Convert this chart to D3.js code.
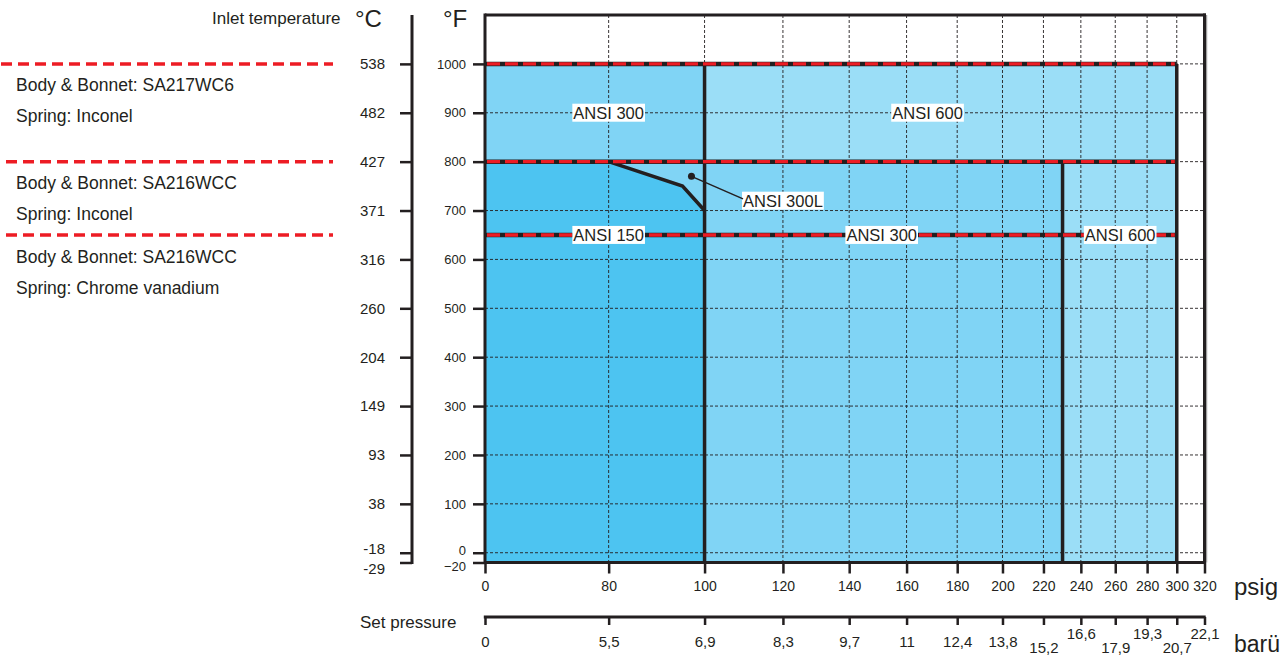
<!DOCTYPE html>
<html><head><meta charset="utf-8">
<script src="https://cdn.jsdelivr.net/npm/d3@7"></script>
<style>
body{margin:0;background:#fff}
svg{display:block}
text{font-family:"Liberation Sans",Arial,sans-serif;fill:#231f20}
</style>
</head><body><svg id="c" width="1285" height="657"></svg>
<script>
// ---------- data ----------
const psigTicks = [0,80,100,120,140,160,180,200,220,240,260,280,300,320];
const barTicks  = ["0","5,5","6,9","8,3","9,7","11","12,4","13,8","15,2","16,6","17,9","19,3","20,7","22,1"];
const fTicks    = [-20,0,100,200,300,400,500,600,700,800,900,1000];
const cTicks    = ["-29","-18","38","93","149","204","260","316","371","427","482","538"];
const gridF     = [0,100,200,300,400,500,600,700,800,900,1000];
const gridPsig  = [80,100,120,140,160,180,200,220,240,260,280,300];

const zoneANSI150   = [[0,-20],[0,800],[80,800],[95,750],[100,700],[100,-20]];
const zoneANSI300lo = [[0,-20],[0,800],[230,800],[230,-20]];
const zoneANSI300hi = [[0,800],[0,1000],[100,1000],[100,800]];
const zoneANSI600hi = [[100,800],[100,1000],[300,1000],[300,800]];
const zoneANSI600lo = [[230,-20],[230,800],[300,800],[300,-20]];
const ansi300L      = [[80,800],[95,750],[100,700]];
const classBounds   = [[100,-20,1000],[230,-20,800],[300,-20,1000]]; // psig, from °F, to °F
const tempLimits    = [1000,800,650];
const materials = [
  ["Body & Bonnet: SA217WC6","Spring: Inconel"],
  ["Body & Bonnet: SA216WCC","Spring: Inconel"],
  ["Body & Bonnet: SA216WCC","Spring: Chrome vanadium"]
];
const classLabels = [
  ["ANSI 300",80,900],["ANSI 600",168,900],
  ["ANSI 150",80,650],["ANSI 300",151,650],["ANSI 600",263,650]
];
const label300L = ["ANSI 300L",120,720];
const dot300L   = [97,770];

// ---------- scales ----------
const svg = d3.select("#c");
const dark = "#231f20", red = "#ed1c24";
const xLog = d3.scaleLog().domain([60,320]).range([485,1204.5]); // 0 psig drawn at axis start
const x = v => xLog(Math.max(v,60));
const y = d3.scaleLinear().domain([-20,1100]).range([562.5,15]);
const poly = pts => pts.map(p => [x(p[0]), y(p[1])].join(",")).join(" ");

// ---------- fills ----------
const fills = [[zoneANSI300lo,"#80d4f5"],[zoneANSI150,"#4dc4f1"],[zoneANSI300hi,"#80d4f5"],
               [zoneANSI600hi,"#9bdef7"],[zoneANSI600lo,"#9bdef7"]];
svg.append("g").selectAll("polygon").data(fills).join("polygon")
  .attr("points", d => poly(d[0])).attr("fill", d => d[1]);

// ---------- grid ----------
const grid = svg.append("g").attr("stroke", dark).attr("stroke-width", 1).attr("stroke-dasharray","3,2").attr("opacity",0.9);
grid.selectAll("line.v").data(gridPsig).join("line").attr("class","v")
  .attr("x1", d => x(d)).attr("x2", d => x(d)).attr("y1", y(1100)).attr("y2", y(-20));
grid.selectAll("line.h").data(gridF).join("line").attr("class","h")
  .attr("x1", x(0)).attr("x2", x(320)).attr("y1", d => y(d)).attr("y2", d => y(d));

// ---------- class boundaries ----------
svg.append("g").selectAll("line").data(classBounds).join("line")
  .attr("x1", d => x(d[0])).attr("x2", d => x(d[0]))
  .attr("y1", d => y(d[2])).attr("y2", d => y(d[1]))
  .attr("stroke", dark).attr("stroke-width", 3.5);
svg.append("polyline").attr("points", poly(ansi300L)).attr("fill","none")
  .attr("stroke", dark).attr("stroke-width", 3.5).attr("stroke-linejoin","miter");

// ---------- temperature limits (black + red dashes) ----------
const lim = svg.append("g");
lim.selectAll("line.b").data(tempLimits).join("line").attr("class","b")
  .attr("x1", x(0)).attr("x2", x(300)).attr("y1", d => y(d)).attr("y2", d => y(d))
  .attr("stroke", dark).attr("stroke-width", 4.5);
lim.selectAll("line.r").data(tempLimits).join("line").attr("class","r")
  .attr("x1", x(0)+2).attr("x2", x(300)-2).attr("y1", d => y(d)).attr("y2", d => y(d))
  .attr("stroke", red).attr("stroke-width", 3.4).attr("stroke-dasharray","13,5");

// ---------- frame ----------
const frame = svg.append("g").attr("stroke", dark).attr("stroke-width", 3).attr("fill","none");
frame.append("line").attr("x1", x(0)).attr("x2", x(320)+1.5).attr("y1", y(1100)).attr("y2", y(1100));
frame.append("line").attr("x1", x(0)).attr("x2", x(0)).attr("y1", y(1100)-1.5).attr("y2", y(-20));
frame.append("line").attr("x1", x(320)).attr("x2", x(320)).attr("y1", y(1100)-1.5).attr("y2", y(-20));
frame.append("line").attr("x1", x(0)).attr("x2", x(320)+1.5).attr("y1", y(-20)).attr("y2", y(-20));
svg.append("line").attr("x1", x(320)+2.2).attr("x2", x(320)+2.2).attr("y1", y(1100)).attr("y2", y(-20))
  .attr("stroke","#8a8a8a").attr("stroke-width",1);

// ---------- axes ----------
function styleAxis(g, fs){
  g.select(".domain").remove();
  g.selectAll(".tick line").attr("stroke", dark).attr("stroke-width", 2.5);
  g.selectAll(".tick text").attr("fill", dark).style("font-size", fs+"px")
   .style("font-family",'"Liberation Sans",Arial,sans-serif');
}
// °F axis
const gF = svg.append("g").attr("transform",`translate(${x(0)},0)`)
  .call(d3.axisLeft(y).tickValues(fTicks).tickSize(12).tickPadding(7).tickFormat(d3.format("d")));
styleAxis(gF, 13);
gF.selectAll(".tick text").attr("dy", d => d === -20 ? "0.62em" : d === 0 ? "0.1em" : "0.32em");

// °C axis
const cx = 412;
svg.append("line").attr("x1",cx).attr("x2",cx).attr("y1",y(1100)).attr("y2",y(-20)+1.5)
  .attr("stroke",dark).attr("stroke-width",3);
const gC = svg.append("g").attr("transform",`translate(${cx},0)`)
  .call(d3.axisLeft(y).tickValues(fTicks).tickSize(12).tickPadding(15).tickFormat((d,i) => cTicks[i]));
styleAxis(gC, 15);
gC.selectAll(".tick text").attr("dy", (d,i) => i === 0 ? "0.7em" : i === 1 ? "0.05em" : "0.32em");

// psig axis
const xTickVals = psigTicks.map(v => Math.max(v,60));
const gX = svg.append("g").attr("transform",`translate(0,${y(-20)})`)
  .call(d3.axisBottom(xLog).tickValues(xTickVals).tickSize(11).tickPadding(8).tickFormat((d,i) => psigTicks[i]));
styleAxis(gX, 14);

// bar axis
const barY = 617;
svg.append("line").attr("x1", x(0)-1.2).attr("x2", x(320)+1.2).attr("y1", barY).attr("y2", barY)
  .attr("stroke", dark).attr("stroke-width", 3);
const gB = svg.append("g").attr("transform",`translate(0,${barY})`)
  .call(d3.axisBottom(xLog).tickValues(xTickVals).tickSize(8).tickPadding(11).tickFormat((d,i) => barTicks[i]));
styleAxis(gB, 15);
gB.selectAll(".tick text").attr("transform", (d,i) => i < 8 ? null : `translate(0,${i % 2 === 0 ? 6 : -8})`);

// ---------- titles ----------
svg.append("text").attr("x",212).attr("y",24).style("font-size","17px").text("Inlet temperature");
svg.append("text").attr("x",355).attr("y",27).style("font-size","24px").text("°C");
svg.append("text").attr("x",443).attr("y",27).style("font-size","24px").text("°F");
svg.append("text").attr("x",360).attr("y",628).style("font-size","17px").text("Set pressure");
svg.append("text").attr("x",1234).attr("y",595).style("font-size","24px").text("psig");
svg.append("text").attr("x",1234).attr("y",652).style("font-size","23px").text("barü");

// ---------- material legend ----------
const leg = svg.append("g");
leg.selectAll("line").data(tempLimits).join("line")
  .attr("x1", (d,i) => i === 0 ? 1 : 6).attr("x2", 333).attr("y1", d => y(d)).attr("y2", d => y(d))
  .attr("stroke", red).attr("stroke-width", 3.5).attr("stroke-dasharray","11,6");
materials.forEach((m,i) => {
  m.forEach((t,j) => {
    leg.append("text").attr("x",16).attr("y", y(tempLimits[i]) + 27 + j*31 + (i===2 ? 1 : 0))
      .style("font-size","17.5px").text(t);
  });
});

// ---------- class labels ----------
function boxLabel(t, px, py, anchor){
  const g = svg.append("g");
  const tx = g.append("text").attr("x",px).attr("y",py).attr("dy","0.36em")
    .attr("text-anchor",anchor).style("font-size","16.5px").text(t);
  const b = tx.node().getBBox();
  g.insert("rect","text").attr("x",b.x-1).attr("y",b.y).attr("width",b.width+2).attr("height",b.height)
    .attr("fill","#fff");
  return b;
}
classLabels.forEach(d => boxLabel(d[0], x(d[1]), y(d[2]), "middle"));
const b3 = boxLabel(label300L[0], x(label300L[1]), y(label300L[2]), "middle");
svg.append("line").attr("x1", x(dot300L[0])).attr("y1", y(dot300L[1]))
  .attr("x2", b3.x).attr("y2", b3.y + b3.height*0.4).attr("stroke", dark).attr("stroke-width",1.5);
svg.append("circle").attr("cx", x(dot300L[0])).attr("cy", y(dot300L[1])).attr("r",3.5).attr("fill",dark);
</script>
</body></html>
